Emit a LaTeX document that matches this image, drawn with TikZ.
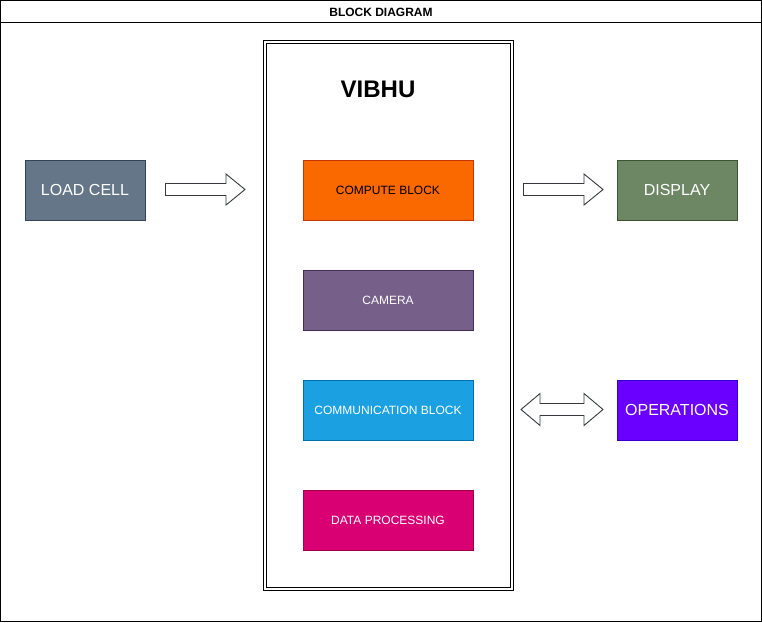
\documentclass[tikz,border=0pt]{standalone}
\usepackage{fontspec}
\setmainfont{Liberation Sans}
\definecolor{loadF}{HTML}{647687}\definecolor{loadD}{HTML}{314354}
\definecolor{compF}{HTML}{FA6800}\definecolor{compD}{HTML}{C73500}
\definecolor{camF}{HTML}{76608A}\definecolor{camD}{HTML}{432D57}
\definecolor{commF}{HTML}{1BA1E2}\definecolor{commD}{HTML}{006EAF}
\definecolor{dataF}{HTML}{D80073}\definecolor{dataD}{HTML}{A50040}
\definecolor{dispF}{HTML}{6D8764}\definecolor{dispD}{HTML}{3A5431}
\definecolor{opF}{HTML}{6A00FF}\definecolor{opD}{HTML}{3700CC}
\definecolor{arrD}{HTML}{36393D}
\tikzset{
  blk/.style={draw, line width=1pt, minimum width=120pt, minimum height=60pt, inner sep=0pt, text=white, font=\fontsize{16}{19}\selectfont},
  inblk/.style={draw, line width=1pt, minimum width=170pt, minimum height=60pt, inner sep=0pt, text=white, font=\fontsize{12}{14}\selectfont},
  blockarrow/.style={draw=arrD, line width=0.9pt, fill=white, line join=miter},
}
\begin{document}
\begin{tikzpicture}[x=1pt,y=-1pt]
\useasboundingbox (0,0) rectangle (762,622);
% outer frame with title
\draw[line width=1pt] (0.5,0.5) rectangle (761.5,621.5);
\draw[line width=1pt] (0.5,22) -- (761.5,22);
\node[font=\fontsize{12}{14}\selectfont\bfseries, inner sep=0pt] (title) at (381,12) {BLOCK DIAGRAM};
% container
\draw[line width=1pt] (263.5,40.5) rectangle (513.5,590.5);
\draw[line width=1pt] (266.5,43.5) rectangle (510.5,587.5);
\node[font=\fontsize{24}{28}\selectfont\bfseries, inner sep=0pt] (vibhu) at (378,89) {VIBHU};
% inner blocks
\node[inblk, fill=compF, draw=compD, text=black] (compute) at (388,190) {COMPUTE BLOCK};
\node[inblk, fill=camF, draw=camD] (camera) at (388,300) {CAMERA};
\node[inblk, fill=commF, draw=commD] (comm) at (388,410) {COMMUNICATION BLOCK};
\node[inblk, fill=dataF, draw=dataD] (data) at (388,520) {DATA PROCESSING};
% outer blocks
\node[blk, fill=loadF, draw=loadD] (load) at (85,190) {LOAD CELL};
\node[blk, fill=dispF, draw=dispD] (display) at (677,190) {DISPLAY};
\node[blk, fill=opF, draw=opD] (ops) at (677,410) {OPERATIONS};
% block arrows
\draw[blockarrow] (165.5,183.5) -- (226,183.5) -- (226,174) -- (245,189.5) -- (226,205) -- (226,195.5) -- (165.5,195.5) -- cycle;
\draw[blockarrow] (523.5,183.5) -- (584,183.5) -- (584,174) -- (603,189.5) -- (584,205) -- (584,195.5) -- (523.5,195.5) -- cycle;
\draw[blockarrow] (521,409.5) -- (540,393.5) -- (540,403.5) -- (584,403.5) -- (584,393.5) -- (603,409.5) -- (584,425.5) -- (584,415.5) -- (540,415.5) -- (540,425.5) -- cycle;
\end{tikzpicture}
\end{document}
